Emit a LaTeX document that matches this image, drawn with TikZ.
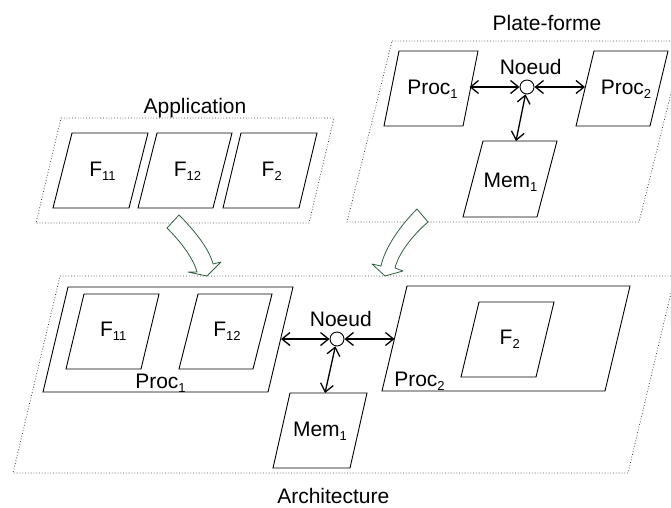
\documentclass[tikz,border=0pt]{standalone}
\usepackage{fontspec}
\setmainfont{Liberation Sans}
\usetikzlibrary{arrows.meta}
\newcommand{\subx}[1]{\raisebox{-0.2em}{\fontsize{13}{13}\selectfont #1}}
\definecolor{arrgreen}{RGB}{47,95,63}
% parallelogram: #1 style, #2 top-left x, #3 top-right x, #4 top y, #5 bottom-left x, #6 bottom y
\newcommand{\pgram}[6]{\draw[#1] (#2,#4) -- (#3,#4) -- ({#5+#3-#2},#6) -- (#5,#6) -- cycle;}
\begin{document}
\begin{tikzpicture}[x=1pt,y=-1pt,
  font=\fontsize{21}{25}\selectfont,
  box/.style={draw=black, line width=0.9pt},
  zone/.style={draw=black!75, dotted, line width=0.8pt},
  lbl/.style={inner sep=0pt, anchor=base},
  conn/.style={{Straight Barb[length=8pt,width=13pt]}-{Straight Barb[length=8pt,width=13pt]}, line width=1.3pt},
  hub/.style={circle, draw, line width=0.9pt, minimum size=14pt, inner sep=0pt, fill=white},
  bigarrow/.style={draw=arrgreen, fill=white, line width=0.8pt, line join=round}]
\useasboundingbox (0,0) rectangle (671,507);

% ---------- Application ----------
\pgram{zone}{61}{334}{118}{36}{223}
\pgram{box}{72}{148}{133}{53}{208}
\pgram{box}{157}{232}{133}{138}{208}
\pgram{box}{241}{317}{133}{223}{208}
\node[lbl] (app) at (195,113.3) {Application};
\node[lbl] (af11) at (102.5,176) {F\subx{11}};
\node[lbl] (af12) at (187.5,176) {F\subx{12}};
\node[lbl] (af2) at (271.7,176) {F\subx{2}};

% ---------- Plate-forme ----------
\pgram{zone}{392}{684}{41}{347}{222}
\pgram{box}{399}{478}{51}{384}{126}
\pgram{box}{594}{668}{51}{576}{126}
\pgram{box}{483}{557}{141}{463}{217}
\node[lbl] (plat) at (547,30.7) {Plate-forme};
\node[lbl] (pproc1) at (432.5,94.3) {Proc\subx{1}};
\node[lbl] (pproc2) at (626,94.3) {Proc\subx{2}};
\node[lbl] (pmem1) at (510.5,187.3) {Mem\subx{1}};
\node[lbl] (pnlbl) at (530.7,74) {Noeud};
\node[hub] (pn) at (527,87) {};
\coordinate (pp1r) at (469.5,87);
\coordinate (pp2l) at (585,87);
\coordinate (pm1t) at (516,141);
\draw[conn] (pn) -- (pp1r);
\draw[conn] (pn) -- (pp2l);
\draw[conn] (pn) -- (pm1t);

% ---------- Architecture ----------
\pgram{zone}{60}{675}{276}{13}{473}
\pgram{box}{68}{293}{287}{43}{392}
\pgram{box}{84}{159}{294}{66}{369}
\pgram{box}{198}{272}{294}{179}{369}
\pgram{box}{407}{630}{286}{382}{391}
\pgram{box}{479}{554}{302}{461}{377}
\pgram{box}{290}{367}{393}{273}{468}
\node[lbl] (arch) at (333.3,503.3) {Architecture};
\node[lbl] (xf11) at (113.3,336.7) {F\subx{11}};
\node[lbl] (xf12) at (227,336.7) {F\subx{12}};
\node[lbl] (xproc1) at (160.5,388.3) {Proc\subx{1}};
\node[lbl] (xf2) at (509.7,344) {F\subx{2}};
\node[lbl] (xproc2) at (419.5,386.7) {Proc\subx{2}};
\node[lbl] (xmem1) at (320,436.7) {Mem\subx{1}};
\node[lbl] (xnlbl) at (340.8,326) {Noeud};
\node[hub] (xn) at (337,339) {};
\coordinate (xp1r) at (281,339);
\coordinate (xp2l) at (394.5,339);
\coordinate (xm1t) at (325,393);
\draw[conn] (xn) -- (xp1r);
\draw[conn] (xn) -- (xp2l);
\draw[conn] (xn) -- (xm1t);

% ---------- green curved arrows ----------
\draw[bigarrow] (179,215) -- (167,228) .. controls (179,240) and (193,257) .. (197,272)
  -- (188,272) -- (207,276) -- (221,262) -- (213,264)
  .. controls (209,248) and (193,229) .. (179,215) -- cycle;
\draw[bigarrow] (417,209) -- (428,222) .. controls (414,234) and (399,252) .. (395,268)
  -- (403,271) -- (385,276) -- (372,264) -- (381,266)
  .. controls (385,247) and (401,225) .. (417,209) -- cycle;
\end{tikzpicture}
\end{document}
